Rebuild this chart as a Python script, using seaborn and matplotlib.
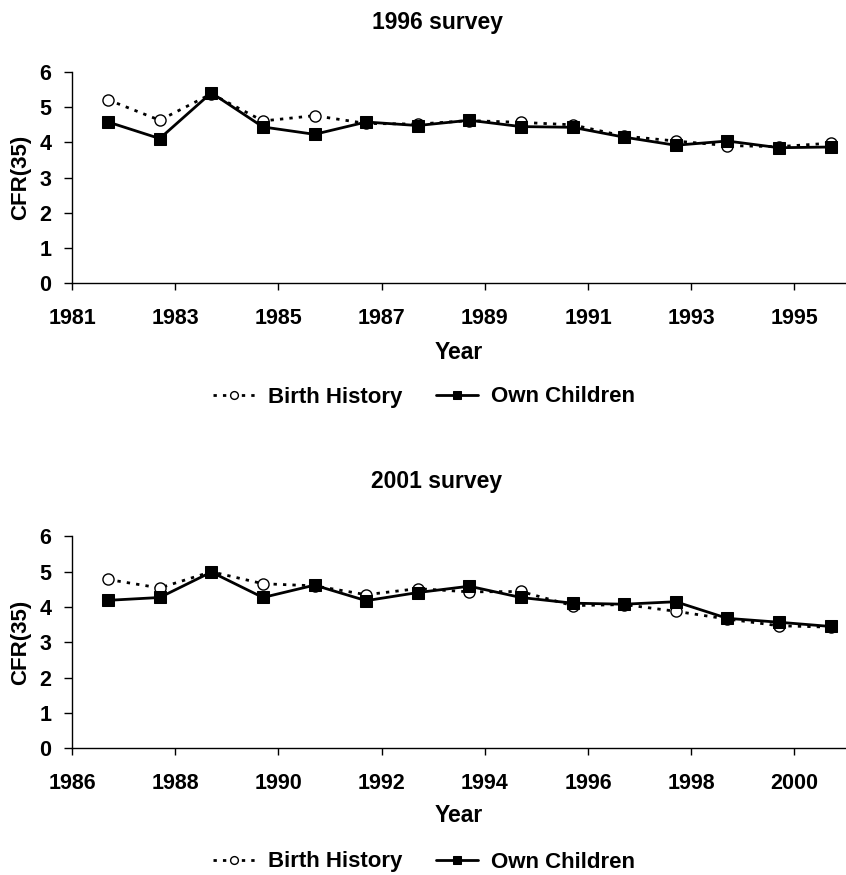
import matplotlib
matplotlib.use("Agg")
import matplotlib.pyplot as plt
import seaborn as sns
import pandas as pd

sns.set_style("white")
plt.rcParams['font.family'] = ['Liberation Sans', 'DejaVu Sans']
plt.rcParams['font.weight'] = 'bold'
plt.rcParams['text.color'] = 'black'
plt.rcParams['axes.labelcolor'] = 'black'
plt.rcParams['xtick.color'] = 'black'
plt.rcParams['ytick.color'] = 'black'

# ---- data ----
years_1996 = [1981.7, 1982.7, 1983.7, 1984.7, 1985.7, 1986.7, 1987.7, 1988.7,
              1989.7, 1990.7, 1991.7, 1992.7, 1993.7, 1994.7, 1995.7]
birth_1996 = [5.21, 4.63, 5.38, 4.61, 4.76, 4.54, 4.52, 4.62,
              4.57, 4.50, 4.18, 4.04, 3.91, 3.88, 3.98]
own_1996 = [4.58, 4.11, 5.41, 4.44, 4.23, 4.58, 4.48, 4.63,
            4.45, 4.43, 4.15, 3.92, 4.04, 3.85, 3.87]

years_2001 = [1986.7, 1987.7, 1988.7, 1989.7, 1990.7, 1991.7, 1992.7, 1993.7,
              1994.7, 1995.7, 1996.7, 1997.7, 1998.7, 1999.7, 2000.7]
birth_2001 = [4.78, 4.54, 5.00, 4.66, 4.60, 4.35, 4.52, 4.43,
              4.44, 4.04, 4.07, 3.88, 3.66, 3.47, 3.43]
own_2001 = [4.19, 4.27, 4.99, 4.27, 4.62, 4.18, 4.41, 4.59,
            4.27, 4.11, 4.08, 4.15, 3.68, 3.57, 3.45]

titles = ["1996 survey", "2001 survey"]
xticks_1996 = [1981, 1983, 1985, 1987, 1989, 1991, 1993, 1995]
xticks_2001 = [1986, 1988, 1990, 1992, 1994, 1996, 1998, 2000]
yticks = [0, 1, 2, 3, 4, 5, 6]
series_names = ["Birth History", "Own Children"]

W, H = 846, 875
fig = plt.figure(figsize=(W / 100, H / 100), dpi=100)

panels = [
    (years_1996, birth_1996, own_1996, xticks_1996, (1981, 1996), 72, 283.3, 23, 352, 397),
    (years_2001, birth_2001, own_2001, xticks_2001, (1986, 2001), 536.4, 748.3, 482, 815, 862),
]

for i, (yrs, bh, oc, xt, xl, top, bot, ty, yy, ly) in enumerate(panels):
    ax = fig.add_axes([72 / W, 1 - bot / H, (W - 72) / W, (bot - top) / H])
    df = pd.DataFrame({"Year": yrs, series_names[0]: bh, series_names[1]: oc})
    sns.lineplot(data=df, x="Year", y=series_names[0], ax=ax, color="black",
                 linestyle=(0, (1.2, 2.2)), linewidth=2.0, marker="o",
                 markersize=8, markerfacecolor="white", markeredgecolor="black",
                 markeredgewidth=1.0, label=series_names[0], legend=False)
    sns.lineplot(data=df, x="Year", y=series_names[1], ax=ax, color="black",
                 linestyle="-", linewidth=2.0, marker="s",
                 markersize=8, markerfacecolor="black", markeredgecolor="black",
                 label=series_names[1], legend=False)
    ax.set_xlim(*xl)
    ax.set_ylim(0, 6)
    ax.set_xticks(xt)
    ax.set_yticks(yticks)
    ax.set_xlabel("")
    ax.set_ylabel("CFR(35)", fontsize=16, fontweight="bold", labelpad=6)
    for s in ["top", "right"]:
        ax.spines[s].set_visible(False)
    for s in ["left", "bottom"]:
        ax.spines[s].set_color("black")
        ax.spines[s].set_linewidth(1.0)
    ax.tick_params(axis="x", direction="out", length=5, width=1, pad=13,
                   labelsize=15.5, bottom=True, colors="black")
    ax.tick_params(axis="y", direction="out", length=6, width=1, pad=9,
                   labelsize=15.5, left=True, colors="black")
    for lab in ax.get_xticklabels() + ax.get_yticklabels():
        lab.set_fontweight("bold")
    fig.text(437 / W, 1 - ty / H, titles[i], ha="center", va="center",
             fontsize=16.5, fontweight="bold")
    fig.text(459 / W, 1 - yy / H, "Year", ha="center", va="center",
             fontsize=16.5, fontweight="bold")
    handles = ax.lines[:2]
    fig.legend(handles, series_names, loc="center", ncol=2,
               bbox_to_anchor=(424 / W, 1 - ly / H), frameon=False,
               prop={"size": 16, "weight": "bold"}, handlelength=1.9,
               markerscale=0.7, columnspacing=1.5, handletextpad=0.6)

fig.savefig("out.png", dpi=100)
